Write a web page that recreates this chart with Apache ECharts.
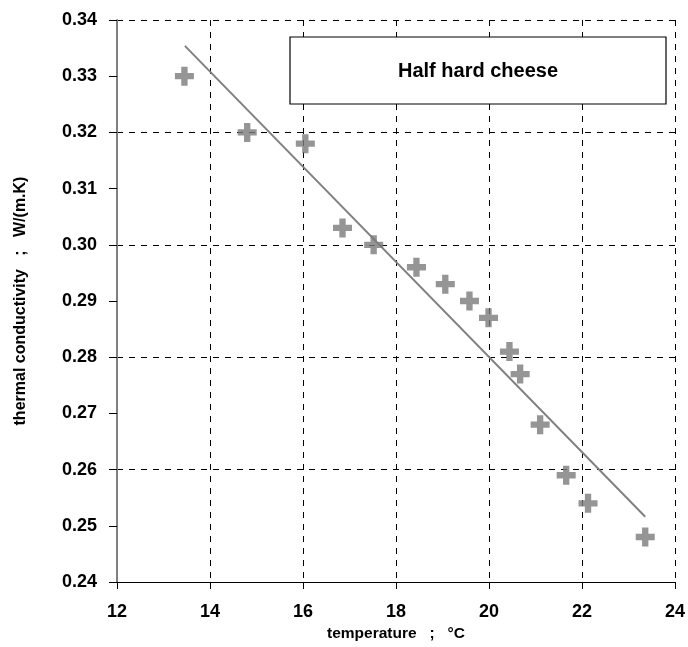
<!DOCTYPE html>
<html><head><meta charset="utf-8">
<script src="https://cdn.jsdelivr.net/npm/echarts@6/dist/echarts.min.js"></script>
<style>html,body{margin:0;padding:0;background:#fff}#c{width:688px;height:647px}</style>
</head><body><div id="c"></div>
<script>
const temperature = [13.45, 14.8, 16.05, 16.85, 17.52, 18.44, 19.06, 19.58, 19.99, 20.44, 20.67, 21.1, 21.66, 22.13, 23.36];
const conductivity = [0.330, 0.320, 0.318, 0.303, 0.300, 0.296, 0.293, 0.290, 0.287, 0.281, 0.277, 0.268, 0.259, 0.254, 0.248];
const fitX = [13.46, 23.36];
const fitY = [0.3354, 0.2516];
const legendText = "Half hard cheese";
const xName = "temperature   ;   °C";
const yName = "thermal conductivity   ;   W/(m.K)";

const chart = echarts.init(document.getElementById('c'), null, {renderer:'canvas'});
const font = 'Liberation Sans, Arial, sans-serif';
const plus = 'path://M-1,-3H1V-1H3V1H1V3H-1V1H-3V-1H-1Z';
chart.setOption({
  animation:false,
  grid:{left:117,right:12,top:20,bottom:65},
  xAxis:{type:'value',min:12,max:24,interval:2,
    name:xName,nameLocation:'middle',nameGap:44,
    nameTextStyle:{fontFamily:font,fontWeight:'bold',fontSize:15.5,color:'#000'},
    axisLine:{lineStyle:{color:'#000',width:1}},
    axisTick:{show:true,length:7,lineStyle:{color:'#000'}},
    axisLabel:{fontFamily:font,fontWeight:'bold',fontSize:18,color:'#000',margin:21},
    splitLine:{show:true,lineStyle:{color:'#000',type:[6,6],width:1}}
  },
  yAxis:[{type:'value',min:0.24,max:0.34,interval:0.01,
    name:yName,nameLocation:'middle',nameGap:88,
    nameTextStyle:{fontFamily:font,fontWeight:'bold',fontSize:16,color:'#000'},
    axisLine:{show:true,lineStyle:{color:'#808080',width:2}},
    axisTick:{show:true,length:8,lineStyle:{color:'#000'}},
    axisLabel:{fontFamily:font,fontWeight:'bold',fontSize:18,color:'#000',margin:20,formatter:v=>v.toFixed(2)},
    splitLine:{show:false}
  },{type:'value',min:0.24,max:0.34,interval:0.02,position:'left',
    axisLine:{show:false},axisTick:{show:false},axisLabel:{show:false},
    splitLine:{show:true,lineStyle:{color:'#000',type:[6,6],width:1}}
  }],
  graphic:[{type:'rect',shape:{x:290,y:37,width:376,height:67},
      style:{fill:'#fff',stroke:'#000',lineWidth:1.2},z:10},
    {type:'text',x:478,y:71,style:{text:legendText,fontFamily:font,fontWeight:'bold',fontSize:20,fill:'#000',align:'center',verticalAlign:'middle'},z:11}],
  series:[
    {type:'line',data:fitX.map((x,i)=>[x,fitY[i]]),symbol:'none',lineStyle:{color:'#808080',width:2},z:3},
    {type:'scatter',data:temperature.map((x,i)=>[x,conductivity[i]]),symbol:plus,symbolSize:19,itemStyle:{color:'#7a7a7a'},z:4}
  ]
});
</script></body></html>
